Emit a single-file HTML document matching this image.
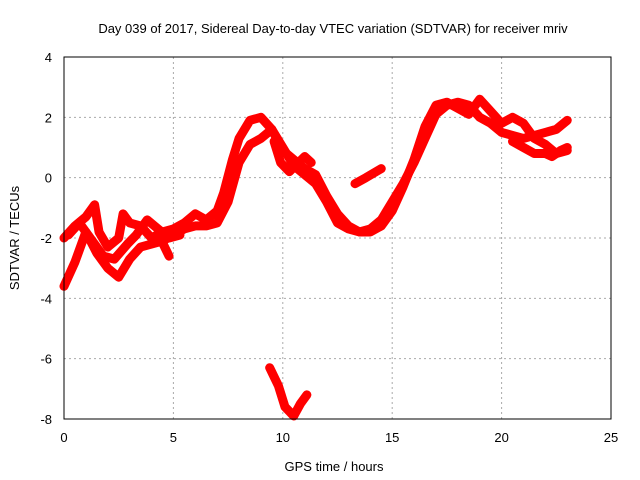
<!DOCTYPE html>
<html><head><meta charset="utf-8"><style>
body{margin:0;background:#fff;font-family:"Liberation Sans",sans-serif}
svg{display:block}
text{font-family:"Liberation Sans",sans-serif;font-size:13px;fill:#000}
</style></head><body>
<svg id="c" width="640" height="480">
<text x="333" y="33" text-anchor="middle">Day 039 of 2017, Sidereal Day-to-day VTEC variation (SDTVAR) for receiver mriv</text>
<text x="334" y="471" text-anchor="middle">GPS time / hours</text>
<text transform="translate(19,238) rotate(-90)" text-anchor="middle">SDTVAR / TECUs</text>
<g id="grid"></g><g id="ticks"></g><g id="marks"></g>
<rect x="64" y="57" width="547" height="362" fill="none" stroke="#000" stroke-width="1"/>
</svg>
<script>
const xTicks=[0,5,10,15,20,25];
const yTicks=[4,2,0,-2,-4,-6,-8];
const seriesUpper=[[0,-2],[0.5,-1.6],[1,-1.3],[1.4,-0.9],[1.6,-1.8],[2,-2.3],[2.5,-2.0],[2.7,-1.2],[3,-1.5],[3.5,-1.6],[4,-2.0],[4.5,-1.8],[5,-1.7],[5.5,-1.5],[6,-1.2],[6.5,-1.4],[7,-1.1],[7.3,-0.5],[7.7,0.6],[8,1.3],[8.5,1.9],[9,2.0],[9.5,1.6],[10,0.9],[10.5,0.6],[11,0.3],[11.5,0.1],[12,-0.6],[12.5,-1.2],[13,-1.6],[13.5,-1.8],[14,-1.7],[14.5,-1.4],[15,-0.8],[15.5,-0.2],[16,0.5],[16.5,1.3],[17,2.1],[17.5,2.4],[18,2.5],[18.5,2.4],[19,2.0],[19.5,1.8],[20,1.5],[20.5,1.4],[21,1.3],[21.5,1.4],[22,1.5],[22.5,1.6],[23,1.9]];
const seriesLower=[[0,-3.6],[0.5,-2.8],[1,-1.8],[1.5,-2.5],[2,-3.0],[2.5,-3.3],[3,-2.7],[3.5,-2.3],[4,-2.2],[4.5,-2.1],[5,-1.9],[5.5,-1.7],[6,-1.6],[6.5,-1.6],[7,-1.5],[7.5,-0.8],[8,0.5],[8.5,1.1],[9,1.3],[9.5,1.6],[10,1.0],[10.5,0.4],[11,0.1],[11.5,-0.2],[12,-0.8],[12.5,-1.5],[13,-1.7],[13.5,-1.8],[14,-1.8],[14.5,-1.6],[15,-1.1],[15.5,-0.3],[16,0.6],[16.5,1.7],[17,2.4],[17.5,2.5],[18,2.3],[18.5,2.1],[19,2.6],[19.5,2.2],[20,1.8],[20.5,2.0],[21,1.8],[21.5,1.3],[22,1.1],[22.5,0.8],[23,0.9]];
const seriesLoop=[[20.5,1.2],[21,1.0],[21.5,0.8],[22,0.8],[22.3,0.7],[22.7,0.9],[23,1.0]];
const seriesMid=[[0.2,-1.9],[0.7,-1.5],[1.2,-2.0],[1.8,-2.6],[2.3,-2.7],[2.9,-2.2],[3.3,-1.9],[3.8,-1.4],[4.3,-1.7],[4.8,-2.0],[5.3,-1.9]];
const seriesFrag1=[[13.3,-0.2],[13.8,0.0],[14.5,0.3]];
const seriesFrag2=[[9.4,-6.3],[9.8,-6.9],[10.1,-7.6],[10.5,-7.9],[10.8,-7.5],[11.1,-7.2]];
const seriesFrag3=[[4.4,-2.0],[4.8,-2.6]];
const seriesFrag4=[[9.6,1.2],[9.9,0.5],[10.3,0.2],[11.0,0.7],[11.3,0.5]];
const X=v=>64+v*547/25, Y=v=>57+(4-v)*362/12;
const NS="http://www.w3.org/2000/svg";
const g=document.getElementById('grid'),t=document.getElementById('ticks'),m=document.getElementById('marks');
function el(p,n,a){const e=document.createElementNS(NS,n);for(const k in a)e.setAttribute(k,a[k]);p.appendChild(e);return e;}
xTicks.forEach(v=>{
 if(v>0&&v<25){const l=el(g,'line',{x1:X(v),x2:X(v),y1:57,y2:419,stroke:'#aaa','stroke-dasharray':'2,3'});
 
 }
 const s=el(t,'text',{x:X(v),y:442,'text-anchor':'middle'});s.textContent=v;
 
 
});
yTicks.forEach(v=>{
 if(v<4&&v>-8){const l=el(g,'line',{x1:64,x2:611,y1:Y(v),y2:Y(v),stroke:'#aaa','stroke-dasharray':'2,3'});
 
 }
 const s=el(t,'text',{x:52,y:Y(v)+5,'text-anchor':'end'});s.textContent=v;
 
 
});
[[seriesUpper,'series-upper'],[seriesLower,'series-lower'],[seriesMid,'series-middle'],[seriesLoop,'series-loop'],[seriesFrag1,'series-fragment-1'],[seriesFrag2,'series-fragment-2'],[seriesFrag3,'series-fragment-3'],[seriesFrag4,'series-fragment-4']].forEach(([d,n])=>{
 const p=el(m,'polyline',{points:d.map(q=>X(q[0])+','+Y(q[1])).join(' '),fill:'none',stroke:'#f00','stroke-width':9,'stroke-linejoin':'round','stroke-linecap':'round'});
 
 
});
</script>
</body></html>
